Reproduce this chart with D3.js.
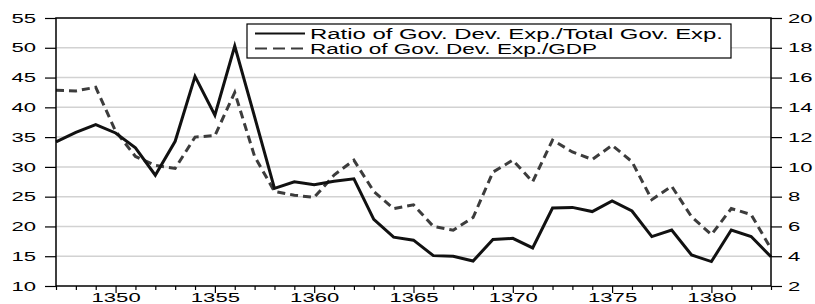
<!DOCTYPE html>
<meta charset="utf-8">
<script src="https://d3js.org/d3.v7.min.js"></script>
<style>
  body { margin: 0; background: #fff; }
  text { font-family: "Liberation Sans", Arial, sans-serif; fill: #000; }
</style>
<div id="chart"></div>
<script>

// data
var years = d3.range(1347, 1384);
var devTotal = [34.2, 35.8, 37.1, 35.7, 33.2, 28.6, 34.3, 45.2, 38.7, 50.3,
                38.4, 26.4, 27.5, 27.0, 27.6, 28.0, 21.2, 18.2, 17.7, 15.1,
                15.0, 14.2, 17.8, 18.0, 16.4, 23.1, 23.2, 22.5, 24.3, 22.6,
                18.3, 19.4, 15.2, 14.1, 19.4, 18.3, 14.9];
var devGdp = [15.15, 15.1, 15.35, 12.4, 10.7, 10.1, 9.9, 12.0, 12.1, 15.0,
              10.7, 8.35, 8.1, 7.95, 9.45, 10.45, 8.35, 7.2, 7.45, 6.0,
              5.75, 6.6, 9.65, 10.45, 9.0, 11.8, 11.0, 10.5, 11.45, 10.35,
              7.8, 8.7, 6.65, 5.45, 7.2, 6.8, 4.5];
var leftTicks = [10, 15, 20, 25, 30, 35, 40, 45, 50, 55];
var rightTicks = [2, 4, 6, 8, 10, 12, 14, 16, 18, 20];
var labels = ["Ratio of Gov. Dev. Exp./Total Gov. Exp.", "Ratio of Gov. Dev. Exp./GDP"];

var margin = {top: 18, right: 44, bottom: 18, left: 56},
    width = 815 - margin.left - margin.right,
    height = 304 - margin.top - margin.bottom;
var sx = 1.7; // the picture's text is stretched sideways

var svg = d3.select("#chart")
  .append("svg")
    .attr("width", 815)
    .attr("height", 304)
  .append("g")
    .attr("transform", "translate(" + margin.left + "," + margin.top + ")");

var x = d3.scaleLinear().domain([1347, 1383]).range([0, width]);
var yL = d3.scaleLinear().domain([10, 55]).range([height, 0]);
var yR = d3.scaleLinear().domain([2, 20]).range([height, 0]);

// grid
svg.selectAll(".grid")
  .data(leftTicks.slice(1, -1))
  .enter().append("line")
    .attr("x1", 0).attr("x2", width)
    .attr("y1", function(d) { return yL(d); })
    .attr("y2", function(d) { return yL(d); })
    .attr("stroke", "#d2d2d2")
    .attr("stroke-width", 1.5);

// axes
var gL = svg.append("g")
  .call(d3.axisLeft(yL).tickValues(leftTicks).tickSize(11).tickFormat(d3.format("d")));
var gR = svg.append("g")
  .attr("transform", "translate(" + width + ",0)")
  .call(d3.axisRight(yR).tickValues(rightTicks).tickSize(11).tickFormat(d3.format("d")));
var gB = svg.append("g")
  .attr("transform", "translate(0," + height + ")")
  .call(d3.axisBottom(x).tickValues(years).tickSize(4)
    .tickFormat(function(d) { return d % 5 == 0 ? d : ""; }));

[gL, gR, gB].forEach(function(g) {
  g.select(".domain").remove();
  g.selectAll("line").attr("stroke", "#000").attr("stroke-width", 1.2);
  g.selectAll("text").style("font-size", "13px").attr("fill", "#000");
});
gL.selectAll("text").attr("x", 0).attr("transform", "translate(-20,0) scale(" + sx + ",1)");
gR.selectAll("text").attr("x", 0).attr("text-anchor", "start")
  .attr("transform", "translate(17,0) scale(" + sx + ",1)");
gB.selectAll("text").attr("y", 0).attr("dy", "0.71em")
  .attr("transform", "translate(0,7) scale(" + sx + ",1)");
gB.selectAll(".tick line").attr("y2", function(d) { return d % 5 == 0 ? 7 : 4; });

// lines
var lineL = d3.line()
  .x(function(d, i) { return x(years[i]); })
  .y(function(d) { return yL(d); });
var lineR = d3.line()
  .x(function(d, i) { return x(years[i]); })
  .y(function(d) { return yR(d); });

svg.append("path")
  .datum(devGdp)
  .attr("d", lineR)
  .attr("fill", "none")
  .attr("stroke", "#3c3c3c")
  .attr("stroke-width", 3)
  .attr("stroke-dasharray", "8,5");

svg.append("path")
  .datum(devTotal)
  .attr("d", lineL)
  .attr("fill", "none")
  .attr("stroke", "#111")
  .attr("stroke-width", 3)
  .attr("stroke-linejoin", "miter");

// frame
svg.append("rect")
  .attr("width", width).attr("height", height)
  .attr("fill", "none")
  .attr("stroke", "#000")
  .attr("stroke-width", 1.5);

// legend
var lg = svg.append("g").attr("transform", "translate(191,6)");
lg.append("rect")
  .attr("width", 484).attr("height", 34)
  .attr("fill", "#fff")
  .attr("stroke", "#000")
  .attr("stroke-width", 1.2);
var rows = lg.selectAll(".row")
  .data(labels)
  .enter().append("g")
    .attr("transform", function(d, i) { return "translate(0," + (9.5 + i * 15) + ")"; });
rows.append("line")
  .attr("x1", 8).attr("x2", 58)
  .attr("stroke", function(d, i) { return i == 0 ? "#111" : "#3c3c3c"; })
  .attr("stroke-width", 2)
  .attr("stroke-dasharray", function(d, i) { return i == 0 ? null : "12,6"; });
rows.append("text")
  .attr("x", 63)
  .attr("dy", "0.36em")
  .style("font-size", "14px")
  .attr("textLength", function(d, i) { return i == 0 ? 413 : 287; })
  .attr("lengthAdjust", "spacingAndGlyphs")
  .text(function(d) { return d; });

</script>
